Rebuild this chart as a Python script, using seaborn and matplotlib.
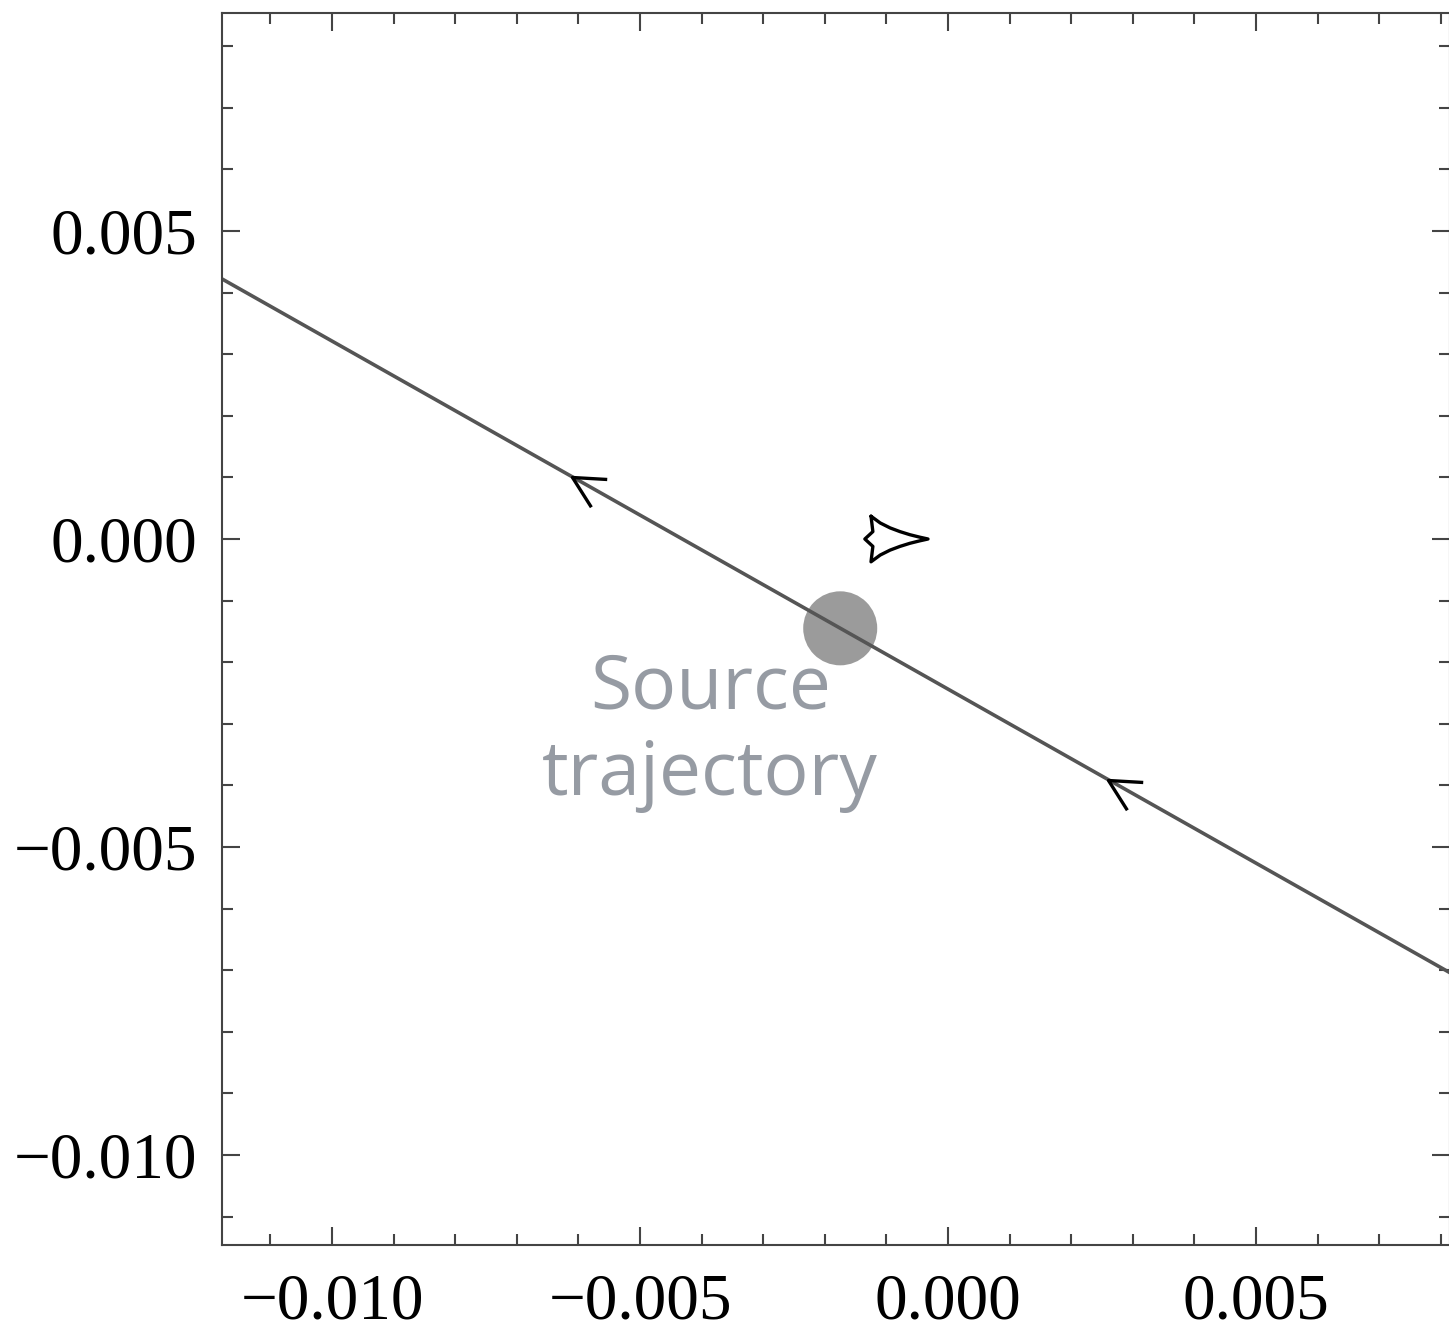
import numpy as np
import pandas as pd
import seaborn as sns
import matplotlib.pyplot as plt
from matplotlib.path import Path
from matplotlib.ticker import MultipleLocator

# source trajectory (straight line crossing the plot)
traj_x = [-0.0118, 0.0082]
traj_y = [0.00423, -0.00707]

# source position
source_x = [-0.00175]
source_y = [-0.00145]

# arrow heads along the trajectory
arrow_x = [-0.0061, 0.0026]
arrow_y = [0.00101, -0.00391]

# central caustic
caustic_x = [-0.00125, -0.00110, -0.00094, -0.00078, -0.00062, -0.00046, -0.000325,
             -0.00046, -0.00062, -0.00078, -0.00094, -0.00110, -0.00125,
             -0.00122, -0.00135, -0.00122, -0.00125]
caustic_y = [0.00037, 0.00026, 0.00018, 0.00012, 0.00007, 0.00003, 0.0,
             -0.00003, -0.00007, -0.00012, -0.00018, -0.00026, -0.00037,
             -0.00012, 0.0, 0.00012, 0.00037]

xticks = [-0.010, -0.005, 0.000, 0.005]
xtick_labels = ["\u22120.010", "\u22120.005", "0.000", "0.005"]
yticks = [-0.010, -0.005, 0.000, 0.005]
ytick_labels = ["\u22120.010", "\u22120.005", "0.000", "0.005"]

sns.set_style("ticks")
plt.rcParams['font.family'] = ['Liberation Serif', 'DejaVu Serif']

fig = plt.figure(figsize=(14.49, 13.31), dpi=100)
ax = fig.add_axes([222 / 1449, 86 / 1331, 1228 / 1449, 1232 / 1331])

ax.scatter(source_x, source_y, s=2840, color="#9b9b9b", edgecolor="none", zorder=1)
sns.lineplot(x=traj_x, y=traj_y, ax=ax, color="#555555", linewidth=2.6, sort=False, zorder=2)
ax.plot(caustic_x, caustic_y, color="black", linewidth=2.4, zorder=3)

# open arrow head marker: tip at the data point
head = Path([(35, -2), (0, 0), (19, -30)], [Path.MOVETO, Path.LINETO, Path.LINETO])
ax.plot(arrow_x, arrow_y, linestyle="none", marker=head, markersize=50,
        markerfacecolor="none", markeredgecolor="black", markeredgewidth=2.4, zorder=4)

ax.text(-0.00386, -0.00416, "Source\ntrajectory", ha="center", va="baseline",
        multialignment="center", fontsize=54, color="#969ba3",
        family=["Open Sans", "DejaVu Sans"], linespacing=1.2)

ax.set_xlim(-0.011786, 0.008149)
ax.set_ylim(-0.011461, 0.008539)
ax.set_xticks(xticks)
ax.set_xticklabels(xtick_labels)
ax.set_yticks(yticks)
ax.set_yticklabels(ytick_labels)
ax.xaxis.set_minor_locator(MultipleLocator(0.001))
ax.yaxis.set_minor_locator(MultipleLocator(0.001))
ax.tick_params(which="both", direction="in", top=True, right=True,
               color="#444444", width=1.5, labelsize=47, labelcolor="black")
ax.tick_params(axis="x", pad=20)
ax.tick_params(axis="y", pad=18)
ax.tick_params(which="major", length=13)
ax.tick_params(which="minor", length=8)
for sp in ax.spines.values():
    sp.set_visible(True)
    sp.set_color("#444444")
    sp.set_linewidth(1.5)

fig.savefig("out.png", dpi=100)
